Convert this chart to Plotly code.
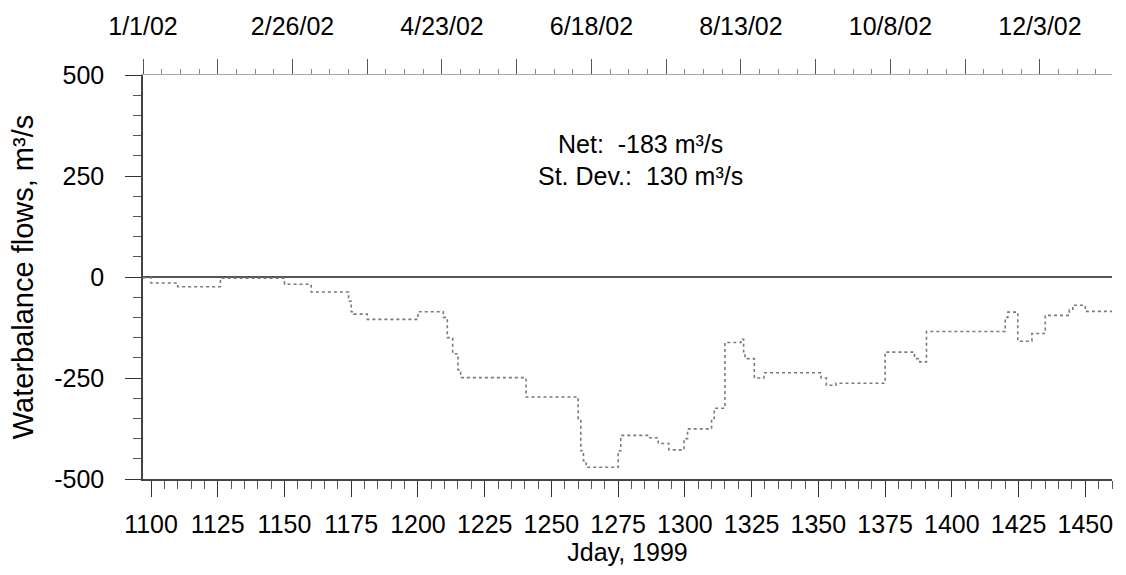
import plotly.graph_objects as go

# ---- data ----
jday = [1097, 1100, 1110, 1126, 1150, 1160, 1174, 1175, 1176, 1181,
        1200, 1209.5, 1211, 1213, 1215, 1216, 1240.5, 1260, 1261, 1262,
        1263, 1275, 1276, 1286, 1290, 1294, 1299.7, 1301, 1310, 1311,
        1315, 1321, 1322, 1322.5, 1326, 1329.6, 1351, 1353, 1356.6, 1375,
        1386, 1388, 1390.5, 1420, 1421, 1424.7, 1430, 1435, 1444, 1445.3,
        1450, 1460]
flow = [-2, -15, -24, -3, -18, -37, -60, -86, -92, -105,
        -86, -100, -150, -190, -230, -249, -297, -350, -430, -455,
        -471, -430, -392, -398, -412, -428, -400, -376, -350, -325,
        -162, -154, -185, -202, -250, -237, -250, -268, -263, -186,
        -202, -210, -135, -100, -87, -159, -140, -95, -82, -70,
        -85, -85]

bottom_ticks = [1100, 1125, 1150, 1175, 1200, 1225, 1250, 1275, 1300,
                1325, 1350, 1375, 1400, 1425, 1450]
top_labels = ["1/1/02", "2/26/02", "4/23/02", "6/18/02", "8/13/02", "10/8/02", "12/3/02"]
top_label_jday = [1097, 1153, 1209, 1265, 1321, 1377, 1433]
top_major_jday = [1097, 1125, 1153, 1181, 1209, 1237, 1265, 1293, 1321, 1349,
                  1377, 1405, 1433, 1461]
y_ticks = [-500, -250, 0, 250, 500]
y_tick_labels = ["-500", "-250", "0", "250", "500"]

net_text = "Net:\u00a0 -183 m\u00b3/s"
sd_text = "St. Dev.:\u00a0 130 m\u00b3/s"

FONT = "Liberation Sans, Arial, Helvetica, sans-serif"
XR = [1097, 1460]

top_text = []
for t in top_major_jday:
    top_text.append(top_labels[top_label_jday.index(t)] if t in top_label_jday else "")

fig = go.Figure()
fig.add_trace(go.Scatter(
    x=jday, y=flow, mode="lines", line_shape="hv",
    line=dict(color="#7a7a7a", width=1.6, dash="dot"),
    showlegend=False, hoverinfo="skip"))
# invisible trace so the top (date) axis is drawn
fig.add_trace(go.Scatter(
    x=top_label_jday, y=[0] * len(top_label_jday), xaxis="x2", mode="markers",
    marker=dict(opacity=0), showlegend=False, hoverinfo="skip"))

fig.update_layout(
    width=1126, height=575,
    margin=dict(l=143, r=14, t=67, b=96),
    paper_bgcolor="white", plot_bgcolor="white",
    font=dict(family=FONT, color="black", size=25),
    xaxis=dict(
        range=XR, tickmode="array", tickvals=bottom_ticks,
        ticks="outside", ticklen=16, tickwidth=1, tickcolor="#333",
        ticklabelstandoff=6,
        minor=dict(dtick=5, tick0=1100, ticks="outside", ticklen=8, tickcolor="#555", showgrid=False),
        showline=True, linecolor="#444", linewidth=1.5,
        showgrid=False, zeroline=False,
        title=dict(text="Jday, 1999", font=dict(size=25), standoff=1),
        tickfont=dict(size=25),
    ),
    xaxis2=dict(
        range=XR, overlaying="x", side="top", anchor="y",
        tickmode="array", tickvals=top_major_jday, ticktext=top_text,
        ticks="outside", ticklen=15, tickwidth=1, tickcolor="#555",
        ticklabelstandoff=14,
        minor=dict(dtick=7, tick0=1097, ticks="outside", ticklen=5, tickcolor="#888", showgrid=False),
        showline=True, linecolor="#aaa", linewidth=1,
        showgrid=False, zeroline=False,
        tickfont=dict(size=25),
    ),
    yaxis=dict(
        range=[-500, 500], tickmode="array", tickvals=y_ticks, ticktext=y_tick_labels,
        ticks="outside", ticklen=16, tickwidth=1, tickcolor="#333",
        ticklabelstandoff=16,
        minor=dict(dtick=50, tick0=0, ticks="outside", ticklen=8, tickcolor="#555", showgrid=False),
        showline=True, linecolor="#444", linewidth=1.5,
        showgrid=False,
        zeroline=True, zerolinecolor="#555", zerolinewidth=1.6,
        title=dict(text="Waterbalance flows, m\u00b3/s", font=dict(size=29), standoff=12),
        tickfont=dict(size=25),
    ),
    annotations=[
        dict(text=net_text, xref="paper", yref="paper", x=0.513, y=0.830,
             showarrow=False, font=dict(size=25), xanchor="center", yanchor="middle"),
        dict(text=sd_text, xref="paper", yref="paper", x=0.513, y=0.749,
             showarrow=False, font=dict(size=25), xanchor="center", yanchor="middle"),
    ],
)

fig.write_html("out.html")
